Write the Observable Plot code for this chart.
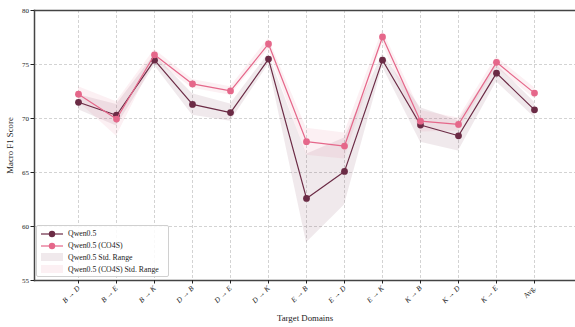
<!DOCTYPE html>
<html><head><meta charset="utf-8">
<script src="https://cdn.jsdelivr.net/npm/d3@7"></script>
<script src="https://cdn.jsdelivr.net/npm/@observablehq/plot@0.6"></script>
<style>
body{margin:0;background:#fff;}
#wrap{position:relative;width:575px;height:327px;font-family:"Liberation Serif",serif;}
#legend{position:absolute;left:36px;top:225px;width:133px;height:52px;border:1px solid #d0d0d0;border-radius:2px;background:rgba(255,255,255,0.85);font-size:7.8px;color:#222;padding:2px 0 0 4px;box-sizing:border-box;}
#legend .row{height:11.8px;display:flex;align-items:center;}
#legend svg{margin-right:5px;}
</style></head>
<body><div id="wrap"></div>
<script>
const domains = ["B→D","B→E","B→K","D→B","D→E","D→K","E→B","E→D","E→K","K→B","K→D","K→E","Avg."];
const tickLabels = ["B → D","B → E","B → K","D → B","D → E","D → K","E → B","E → D","E → K","K → B","K → D","K → E","Avg."];
const qwen = [71.5, 70.3, 75.4, 71.3, 70.55, 75.5, 62.6, 65.1, 75.4, 69.4, 68.4, 74.2, 70.8];
const qwenStd = [0.7, 1.0, 0.5, 1.0, 0.8, 0.5, 4.1, 3.1, 0.6, 1.6, 1.4, 0.8, 0.7];
const co4s = [72.25, 69.95, 75.9, 73.2, 72.55, 76.9, 67.85, 67.45, 77.55, 69.75, 69.45, 75.2, 72.35];
const co4sStd = [0.7, 1.6, 0.5, 0.4, 0.4, 0.5, 1.25, 1.2, 0.6, 1.0, 0.6, 0.5, 0.5];
const yTicks = [55, 60, 65, 70, 75, 80];
const seriesNames = ["Qwen0.5", "Qwen0.5 (CO4S)", "Qwen0.5 Std. Range", "Qwen0.5 (CO4S) Std. Range"];

const darkC = "#6b2b45", pinkC = "#e5678a";
const rowsQ = domains.map((d,i)=>({d, v:qwen[i], lo:qwen[i]-qwenStd[i], hi:qwen[i]+qwenStd[i]}));
const rowsC = domains.map((d,i)=>({d, v:co4s[i], lo:co4s[i]-co4sStd[i], hi:co4s[i]+co4sStd[i]}));
const labelOf = new Map(domains.map((d,i)=>[d, tickLabels[i]]));

const chart = Plot.plot({
  width: 575, height: 327,
  marginLeft: 34, marginRight: 0, marginTop: 10, marginBottom: 47,
  style: {fontFamily: '"Liberation Serif", serif', fontSize: "7px", color: "#222", background: "#fff"},
  x: {type: "point", domain: domains, range: [58, 553]},
  y: {domain: [55, 80]},
  marks: [
    Plot.gridX(domains, {stroke: "#c8c8c8", strokeOpacity: 1, strokeDasharray: "3,2", strokeWidth: 0.8}),
    Plot.gridY(yTicks, {stroke: "#c8c8c8", strokeOpacity: 1, strokeDasharray: "3,2", strokeWidth: 0.8}),
    Plot.areaY(rowsQ, {x: "d", y1: "lo", y2: "hi", fill: darkC, fillOpacity: 0.1}),
    Plot.areaY(rowsC, {x: "d", y1: "lo", y2: "hi", fill: pinkC, fillOpacity: 0.1}),
    Plot.line(rowsQ, {x: "d", y: "v", stroke: darkC, strokeWidth: 1.2}),
    Plot.dot(rowsQ, {x: "d", y: "v", fill: darkC, r: 3.4}),
    Plot.line(rowsC, {x: "d", y: "v", stroke: pinkC, strokeWidth: 1.2}),
    Plot.dot(rowsC, {x: "d", y: "v", fill: pinkC, r: 3.4}),
    Plot.frame({anchor: "top", stroke: "#444", strokeWidth: 1.5}),
    Plot.frame({anchor: "left", stroke: "#444", strokeWidth: 1.5}),
    Plot.frame({anchor: "bottom", stroke: "#444", strokeWidth: 1.5}),
    Plot.axisY(yTicks, {tickSize: 3.5, tickPadding: 2, stroke: "#222", fontSize: 7, label: "Macro F1 Score", labelAnchor: "center", labelArrow: "none", labelOffset: 28}),
    Plot.axisX(domains, {tickSize: 3.5, tickPadding: 3, tickRotate: -45, stroke: "#222", fontSize: 7.4, tickFormat: d => labelOf.get(d), label: "Target Domains", labelAnchor: "center", labelArrow: "none", labelOffset: 40})
  ]
});
const wrap = document.getElementById("wrap");
wrap.appendChild(chart);
d3.select(chart).selectAll("g[aria-label='x-axis tick label'] text").each(function(){
  const t = d3.select(this).text();
  if (t !== "Avg.") d3.select(this).style("font-style", "italic");
});
d3.select(chart).selectAll("g[aria-label='x-axis label'] text, g[aria-label='y-axis label'] text").style("font-size", "8.8px");

const lg = document.createElement("div");
lg.id = "legend";
const sw = [
  `<svg width="22" height="8"><line x1="0" y1="4" x2="22" y2="4" stroke="${darkC}" stroke-width="1.2"/><circle cx="11" cy="4" r="3.2" fill="${darkC}"/></svg>`,
  `<svg width="22" height="8"><line x1="0" y1="4" x2="22" y2="4" stroke="${pinkC}" stroke-width="1.2"/><circle cx="11" cy="4" r="3.2" fill="${pinkC}"/></svg>`,
  `<svg width="22" height="8"><rect x="0" y="0" width="22" height="8" fill="${darkC}" fill-opacity="0.1"/></svg>`,
  `<svg width="22" height="8"><rect x="0" y="0" width="22" height="8" fill="${pinkC}" fill-opacity="0.1"/></svg>`
];
lg.innerHTML = seriesNames.map((n,i)=>`<div class="row">${sw[i]}<span>${n}</span></div>`).join("");
wrap.appendChild(lg);
</script></body></html>
